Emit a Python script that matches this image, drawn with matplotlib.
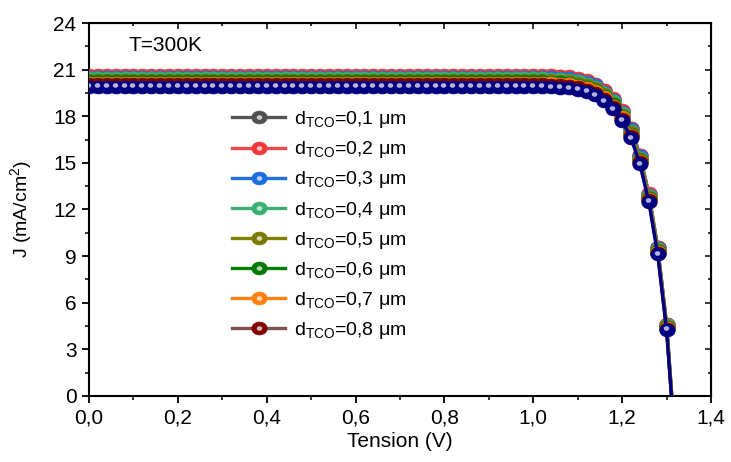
import numpy as np
import matplotlib
matplotlib.use("Agg")
import matplotlib.pyplot as plt
import matplotlib.transforms as mtransforms
from matplotlib.path import Path
from matplotlib.legend_handler import HandlerTuple

plt.rcParams['font.family'] = ['Liberation Sans', 'DejaVu Sans']
plt.rcParams['mathtext.fontset'] = 'custom'
plt.rcParams['mathtext.rm'] = 'Liberation Sans'
plt.rcParams['mathtext.it'] = 'Liberation Sans:italic'

# tension (V): pas de 0,02 V sur le plateau, puis le coude
v_plateau = np.round(np.arange(0.0, 1.03, 0.02), 2)
v_coude = [1.04, 1.06, 1.08, 1.10, 1.12, 1.14, 1.16, 1.18, 1.20,
           1.22, 1.24, 1.26, 1.28, 1.30, 1.32]

labels = ['0,1', '0,2', '0,3', '0,4', '0,5', '0,6', '0,7', '0,8', None]
jsc = [20.62, 20.66, 20.54, 20.44, 20.34, 20.24, 20.15, 20.05, 19.90]

j_01 = [20.60, 20.57, 20.52, 20.42, 20.28, 20.06, 19.67, 19.13, 18.36, 17.22, 15.49, 13.01, 9.57, 4.63, -3.22]
j_02 = [20.64, 20.61, 20.56, 20.46, 20.32, 20.10, 19.71, 19.17, 18.40, 17.26, 15.52, 13.04, 9.59, 4.65, -3.20]
j_03 = [20.52, 20.49, 20.44, 20.34, 20.20, 19.98, 19.59, 19.05, 18.29, 17.15, 15.42, 12.95, 9.52, 4.59, -3.25]
j_04 = [20.42, 20.39, 20.34, 20.24, 20.10, 19.88, 19.50, 18.96, 18.19, 17.06, 15.34, 12.88, 9.45, 4.54, -3.29]
j_05 = [20.32, 20.29, 20.24, 20.14, 20.00, 19.79, 19.40, 18.86, 18.10, 16.98, 15.26, 12.81, 9.39, 4.49, -3.33]
j_06 = [20.22, 20.19, 20.14, 20.04, 19.90, 19.69, 19.30, 18.77, 18.01, 16.89, 15.19, 12.74, 9.33, 4.43, -3.37]
j_07 = [20.13, 20.10, 20.05, 19.95, 19.81, 19.60, 19.22, 18.68, 17.93, 16.81, 15.12, 12.68, 9.27, 4.38, -3.40]
j_08 = [20.03, 20.00, 19.95, 19.86, 19.72, 19.51, 19.12, 18.59, 17.84, 16.73, 15.05, 12.61, 9.21, 4.33, -3.44]
j_09 = [19.88, 19.85, 19.80, 19.71, 19.57, 19.36, 18.98, 18.45, 17.70, 16.60, 14.92, 12.50, 9.12, 4.25, -3.50]
coudes = [j_01, j_02, j_03, j_04, j_05, j_06, j_07, j_08, j_09]

line_colors = ['#555555', '#f04848', '#2070e0', '#3cb070', '#808000', '#008000', '#ff8010', '#805050', '#000080']
mark_colors = ['#505050', '#f03838', '#1c6ee0', '#38b070', '#7a7a00', '#007800', '#ff8010', '#800000', '#000080']

# bille un peu aplatie
circ = Path.unit_circle()
bille = Path(circ.vertices * [1.2, 1.0], circ.codes)

fig = plt.figure(figsize=(7.31, 4.62), dpi=100)
ax = fig.add_axes([0.1218, 0.1429, 0.8508, 0.8073])

V = np.concatenate([v_plateau, v_coude])
shift = mtransforms.offset_copy(ax.transData, fig=fig, x=-1.0, y=1.5, units='dots')

handles, hlabels = [], []
for k in range(len(labels)):
    J = np.concatenate([np.full(len(v_plateau), jsc[k]), coudes[k]])
    mc = np.array(matplotlib.colors.to_rgb(mark_colors[k]))
    light = mc + (1 - mc) * 0.7
    l1, = ax.plot(V, J, '-', color=line_colors[k], lw=2.4, marker=bille, ms=11,
                  mfc=mark_colors[k], mec=mark_colors[k], mew=0.6, zorder=2 + 2 * k)
    l2, = ax.plot(V, J, linestyle='none', marker=bille, ms=4, mfc=light, mec='none',
                  transform=shift, zorder=3 + 2 * k)
    if labels[k] is not None:
        handles.append((l1, l2))
        hlabels.append(r'd$_{\mathregular{TCO}}$=' + labels[k] + ' μm')

ax.set_xlim(0, 1.4)
ax.set_ylim(0, 24)
ax.set_xticks(np.arange(0, 1.41, 0.2))
ax.set_xticklabels(['0,0', '0,2', '0,4', '0,6', '0,8', '1,0', '1,2', '1,4'])
ax.set_xticks(np.arange(0.1, 1.4, 0.2), minor=True)
ax.set_yticks(np.arange(0, 25, 3))
ax.set_yticks(np.arange(1.5, 24, 3), minor=True)
ax.tick_params(which='major', direction='out', length=5, width=1.3, labelsize=15, pad=4)
ax.tick_params(which='minor', direction='out', length=3, width=1.1)
for s in ax.spines.values():
    s.set_linewidth(1.5)

top = ax.secondary_xaxis('top')
top.set_xticks(np.arange(0, 1.41, 0.2))
top.set_xticks(np.arange(0.1, 1.4, 0.2), minor=True)
top.tick_params(which='both', direction='in', labeltop=False, width=1.1)
top.tick_params(which='major', length=4)
top.tick_params(which='minor', length=2.5)
right = ax.secondary_yaxis('right')
right.set_yticks(np.arange(0, 25, 3))
right.set_yticks(np.arange(1.5, 24, 3), minor=True)
right.tick_params(which='both', direction='in', labelright=False, width=1.1)
right.tick_params(which='major', length=4)
right.tick_params(which='minor', length=2.5)

ax.set_xlabel('Tension (V)', fontsize=15, labelpad=3)
ax.set_ylabel('J (mA/cm$^2$)', fontsize=14, labelpad=14)
ax.text(0.064, 0.94, 'T=300K', transform=ax.transAxes, fontsize=15, va='center')

ax.legend(handles, hlabels, handler_map={tuple: HandlerTuple(ndivide=1)},
          loc='upper left', bbox_to_anchor=(0.215, 0.795), frameon=False,
          fontsize=14, handlelength=2.7, handletextpad=0.45, labelspacing=0.47,
          borderpad=0)

fig.savefig('out.png', dpi=100)
